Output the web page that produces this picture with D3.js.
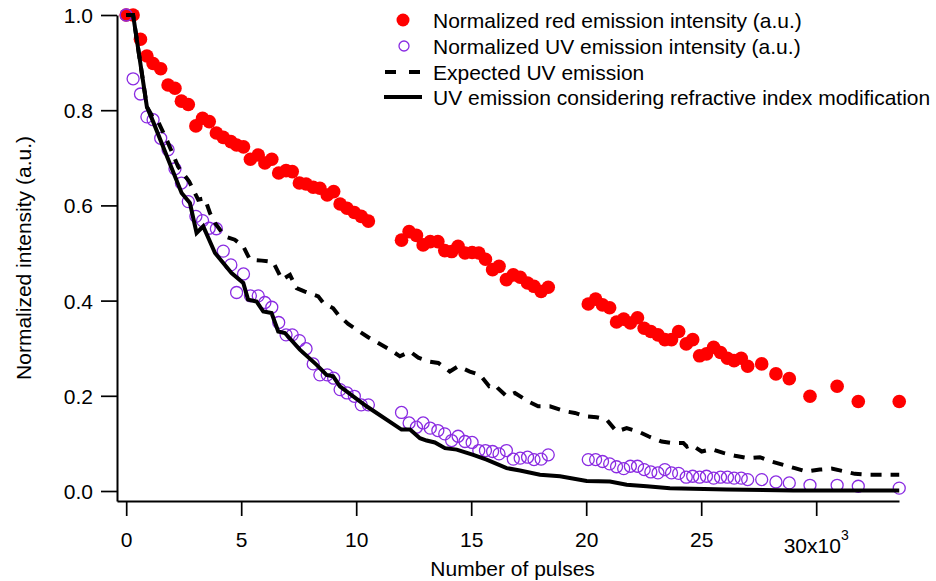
<!DOCTYPE html>
<html><head><meta charset="utf-8">
<script src="https://cdn.jsdelivr.net/npm/d3@7"></script>
<style>
body{margin:0;background:#fff}
svg{display:block}
text{font-family:"Liberation Sans",Arial,Helvetica,sans-serif;fill:#000}
</style>
</head><body>
<svg id="chart" width="936" height="581"></svg>
<script>
// Number of pulses (x10^3)
const pulses = [0,0.3,0.62,0.9,1.17,1.5,1.82,2.12,2.4,2.7,
  3.03,3.32,3.61,3.92,4.22,4.55,4.8,5.1,5.4,5.74,
  6.03,6.33,6.63,6.95,7.22,7.53,7.82,8.13,8.42,8.74,
  9.02,9.3,9.6,9.92,10.22,10.53,
  11.97,12.3,12.62,12.91,13.22,13.55,13.85,14.15,14.43,14.73,
  15.04,15.33,15.62,15.93,16.21,16.53,16.83,17.13,17.45,17.73,18.04,18.35,
  20.09,20.41,20.71,21.02,21.32,21.63,21.92,22.23,22.52,22.81,
  23.12,23.42,23.71,24.02,24.35,24.63,24.93,25.23,25.54,25.84,
  26.14,26.43,26.74,27.02,27.63,28.25,28.83,29.73,30.91,31.83,33.61];

const redIntensity = [1.0,1.0,0.949,0.914,0.898,0.887,0.853,0.846,0.819,0.812,
  0.767,0.783,0.776,0.752,0.743,0.734,0.727,0.723,0.697,0.706,
  0.689,0.697,0.668,0.673,0.671,0.647,0.645,0.638,0.636,0.622,
  0.629,0.603,0.594,0.585,0.577,0.567,
  0.527,0.545,0.537,0.517,0.524,0.524,0.505,0.503,0.514,0.500,
  0.501,0.500,0.487,0.465,0.472,0.444,0.454,0.449,0.437,0.430,0.419,0.428,
  0.393,0.403,0.391,0.385,0.355,0.361,0.353,0.364,0.342,0.335,
  0.328,0.318,0.318,0.335,0.309,0.318,0.284,0.288,0.302,0.291,
  0.279,0.274,0.279,0.262,0.267,0.246,0.236,0.199,0.220,0.188,0.188];

const uvIntensity = [1.0,0.866,0.834,0.786,0.780,0.741,0.717,0.677,0.647,0.608,
  0.577,0.568,0.552,0.551,0.504,0.475,0.417,0.456,0.410,0.410,
  0.396,0.386,0.354,0.328,0.328,0.316,0.299,0.267,0.244,0.244,
  0.237,0.213,0.206,0.199,0.181,0.181,
  0.165,0.143,0.134,0.143,0.132,0.127,0.120,0.106,0.115,0.104,
  0.102,0.085,0.085,0.083,0.078,0.085,0.067,0.069,0.071,0.066,0.067,0.076,
  0.066,0.066,0.062,0.057,0.051,0.047,0.052,0.052,0.045,0.040,
  0.038,0.045,0.038,0.037,0.029,0.031,0.029,0.031,0.027,0.029,
  0.029,0.027,0.027,0.024,0.024,0.019,0.017,0.012,0.012,0.010,0.006];

// Expected UV emission (dashed)
const expectedX = [0,0.3,0.9,1.17,1.39,1.76,2.26,2.74,3.13,3.42,3.64,3.86,4.29,4.72,5.09,5.38,
  5.9,6.39,6.6,6.77,7.12,7.41,7.77,8.35,8.57,9.0,9.22,9.65,10.02,10.52,10.96,11.47,11.9,
  12.34,12.7,13.17,13.57,14.07,14.43,14.94,15.38,15.78,16.03,16.16,16.54,16.9,17.48,17.91,
  18.42,18.86,19.15,19.51,19.94,20.45,20.89,21.32,21.76,22.26,22.7,23.28,23.71,24.22,24.38,
  24.58,25.02,25.45,25.96,26.47,27.04,27.55,28.06,28.57,29.07,29.58,30.16,30.67,31.25,31.68,
  32.26,33.61];
const expectedY = [1.0,1.0,0.807,0.784,0.776,0.738,0.681,0.650,0.612,0.615,0.584,0.563,0.535,0.528,0.514,0.486,
  0.484,0.481,0.461,0.444,0.454,0.426,0.419,0.409,0.395,0.384,0.370,0.351,0.339,0.323,0.311,0.297,0.283,
  0.293,0.280,0.272,0.269,0.251,0.262,0.251,0.244,0.220,0.223,0.216,0.199,0.206,0.188,0.178,
  0.178,0.171,0.167,0.164,0.157,0.155,0.150,0.125,0.132,0.125,0.115,0.104,0.101,0.101,0.093,
  0.097,0.083,0.088,0.080,0.074,0.069,0.071,0.062,0.055,0.048,0.041,0.045,0.047,0.041,0.036,
  0.034,0.034];

// UV emission considering refractive index modification (solid)
const refractiveX = [0,0.3,0.9,1.17,1.83,2.41,2.77,3.06,3.35,3.86,4.58,5.09,5.30,5.67,5.96,6.32,
  6.61,6.90,7.55,8.28,8.71,9.0,9.29,9.87,10.45,11.97,12.34,12.77,13.06,13.42,13.86,14.37,
  15.09,15.67,16.54,17.12,17.99,18.86,20.02,21.03,21.76,22.63,23.64,26.1,29.0,33.61];
const refractiveY = [1.0,1.0,0.807,0.776,0.696,0.626,0.605,0.542,0.556,0.500,0.458,0.437,0.402,0.398,0.377,0.374,
  0.335,0.332,0.297,0.265,0.244,0.241,0.220,0.199,0.178,0.129,0.129,0.111,0.106,0.102,0.090,0.087,
  0.076,0.066,0.048,0.043,0.034,0.031,0.021,0.020,0.013,0.010,0.006,0.003,0.001,0.001];

const xTicks = [0,5,10,15,20,25,30];
const yTicks = [0.0,0.2,0.4,0.6,0.8,1.0];
const legendLabels = [
  "Normalized red emission intensity (a.u.)",
  "Normalized UV emission intensity (a.u.)",
  "Expected UV emission",
  "UV emission considering refractive index modification"
];
const xTitle = "Number of pulses";
const yTitle = "Normalized intensity (a.u.)";

const RED = "#ff0000", PURPLE = "#8a2be2";
const FS = 21;

const svg = d3.select("#chart");
const x = d3.scaleLinear().domain([-0.4, 33.6]).range([117, 899]);
const y = d3.scaleLinear().domain([-0.021, 1.0]).range([501, 15]);

// Axes
const xAxis = d3.axisBottom(x).tickValues(xTicks).tickSize(15).tickSizeOuter(0)
  .tickFormat(d => d === 30 ? "" : String(d));
const gx = svg.append("g").attr("transform", "translate(0,501)").call(xAxis);
gx.select(".domain").attr("stroke-width", 2);
gx.selectAll(".tick line").attr("stroke-width", 1.7);
gx.selectAll(".tick text").attr("font-size", FS).attr("y", 31).attr("dy", "0.71em")
  .attr("font-family", null);
// 30x10^3 label
const t30 = svg.append("text").attr("x", x(30)).attr("y", 553).attr("text-anchor", "middle")
  .attr("font-size", FS);
t30.append("tspan").text("30x10");
t30.append("tspan").attr("font-size", 14).attr("dy", -13).text("3");

const yAxis = d3.axisLeft(y).tickValues(yTicks).tickSize(16).tickSizeOuter(0)
  .tickFormat(d3.format(".1f"));
const gy = svg.append("g").attr("transform", "translate(117,0)").call(yAxis);
gy.select(".domain").attr("stroke-width", 2);
gy.selectAll(".tick line").attr("stroke-width", 1.7);
gy.selectAll(".tick text").attr("font-size", FS).attr("x", -24).attr("dy", "0.36em")
  .attr("font-family", null);

svg.append("text").attr("x", x(16.8)).attr("y", 576).attr("text-anchor", "middle")
  .attr("font-size", FS).text(xTitle);
svg.append("text").attr("transform", "translate(31,258) rotate(-90)")
  .attr("text-anchor", "middle").attr("font-size", FS).text(yTitle);

// Data marks
const redData = pulses.map((p, i) => [p, redIntensity[i]]);
const uvData = pulses.map((p, i) => [p, uvIntensity[i]]);
svg.append("g").selectAll("circle").data(redData).join("circle")
  .attr("cx", d => x(d[0])).attr("cy", d => y(d[1])).attr("r", 6.8).attr("fill", RED);
svg.append("g").selectAll("circle").data(uvData).join("circle")
  .attr("cx", d => x(d[0])).attr("cy", d => y(d[1])).attr("r", 6)
  .attr("fill", "none").attr("stroke", PURPLE).attr("stroke-width", 1.3);

const line = d3.line().x(d => x(d[0])).y(d => y(d[1]));
svg.append("path").datum(expectedX.map((v, i) => [v, expectedY[i]]))
  .attr("d", line).attr("fill", "none").attr("stroke", "#000").attr("stroke-width", 4)
  .attr("stroke-dasharray", "11,9");
svg.append("path").datum(refractiveX.map((v, i) => [v, refractiveY[i]]))
  .attr("d", line).attr("fill", "none").attr("stroke", "#000").attr("stroke-width", 4)
  .attr("stroke-linejoin", "miter");

// Legend
const lg = svg.append("g");
const rowsY = [20, 46, 72, 97];
lg.append("circle").attr("cx", 403).attr("cy", rowsY[0]).attr("r", 6.5).attr("fill", RED);
lg.append("circle").attr("cx", 404).attr("cy", rowsY[1]).attr("r", 5)
  .attr("fill", "none").attr("stroke", PURPLE).attr("stroke-width", 1.3);
lg.append("line").attr("x1", 385).attr("x2", 420).attr("y1", rowsY[2]).attr("y2", rowsY[2])
  .attr("stroke", "#000").attr("stroke-width", 4).attr("stroke-dasharray", "11,13");
lg.append("line").attr("x1", 384).attr("x2", 422).attr("y1", rowsY[3]).attr("y2", rowsY[3])
  .attr("stroke", "#000").attr("stroke-width", 4);
lg.selectAll("text.lab").data(legendLabels).join("text").attr("class", "lab")
  .attr("x", 433).attr("y", (d, i) => rowsY[i]).attr("dy", "0.36em")
  .attr("font-size", FS).text(d => d);
</script>
</body></html>
